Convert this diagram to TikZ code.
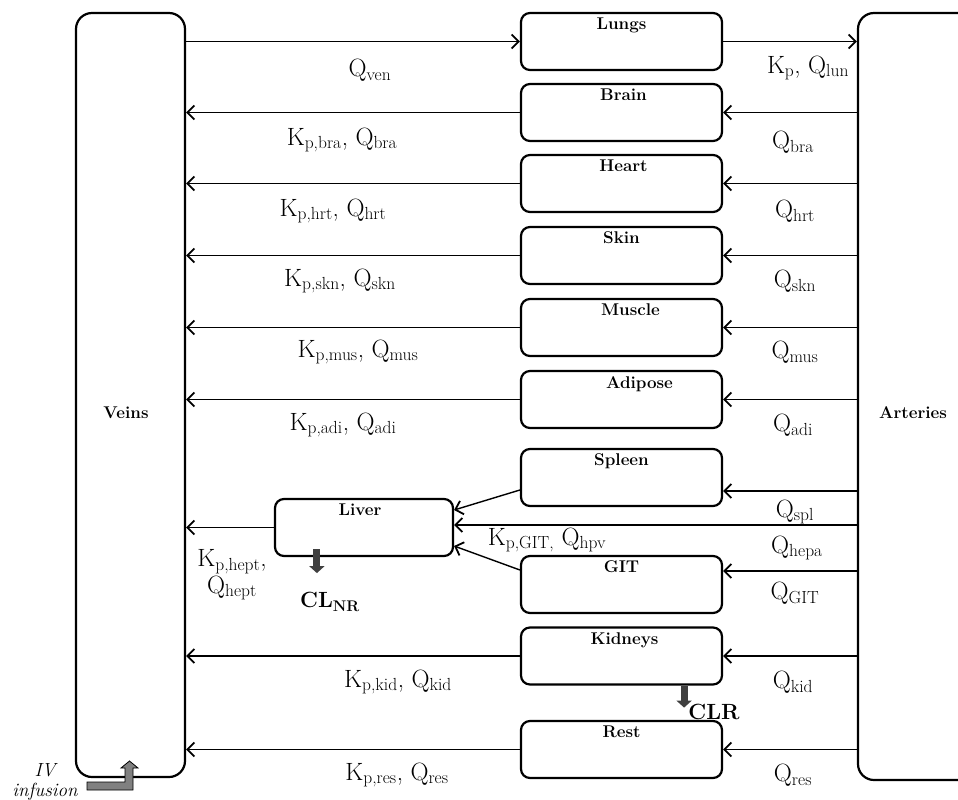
\documentclass[tikz,border=0pt]{standalone}
\usepackage{fontspec}
\usetikzlibrary{arrows.meta,calc}
\tikzset{
 box/.style={draw, line width=2.2pt, rounded corners=9pt, minimum width=201pt, minimum height=57pt, inner sep=0pt},
 organx/.style 2 args={box, label={[anchor=north, inner sep=0pt, yshift=-6pt, xshift=#2, font=\bfseries\fontsize{17}{19}\selectfont]north:#1}},
 organ/.style={organx={#1}{0pt}},
 bigbox/.style={draw, line width=2.2pt, rounded corners=16pt, inner sep=0pt},
 flow/.style={line width=1.4pt, -{Straight Barb[length=7pt,width=14pt,line width=1.8pt]}},
 lbl/.style={font=\fontsize{25}{29}\selectfont, inner sep=0pt},
 blbl/.style={font=\bfseries\fontsize{17}{19}\selectfont, inner sep=0pt},
 clbl/.style={font=\bfseries\fontsize{22}{25}\selectfont, inner sep=0pt},
 ivlbl/.style={font=\itshape\fontsize{19}{21}\selectfont, inner sep=0pt},
 clr/.style={line width=7pt, draw=black!75, -{Triangle[length=7pt,width=15pt]}},
}
\begin{document}
\begin{tikzpicture}[x=1pt,y=-1pt]
\useasboundingbox (0,0) rectangle (958,800);
\clip (0,0) rectangle (958,800);
% compartments
\node[bigbox, minimum width=109pt, minimum height=764pt] (veins) at (130.5,395) {};
\node[blbl] (veinslbl) at (126,413) {Veins};
\node[bigbox, minimum width=152pt, minimum height=767pt] (arteries) at (934,396.5) {};
\node[blbl] (artlbl) at (913,413) {Arteries};
\node[organ=Lungs] (lungs) at (621.5,41.5) {};
\node[organx={Brain}{2pt}] (brain) at (621.5,112.5) {};
\node[organx={Heart}{2pt}] (heart) at (621.5,183.5) {};
\node[organ=Skin] (skin) at (621.5,255.5) {};
\node[organx={Muscle}{9pt}] (muscle) at (621.5,327.5) {};
\node[organx={Adipose}{18pt}] (adipose) at (621.5,399.5) {};
\node[organ=Spleen] (spleen) at (621.5,477.5) {};
\node[organ=GIT] (git) at (621.5,584.5) {};
\node[organx={Kidneys}{3pt}] (kidneys) at (621.5,656) {};
\node[organ=Rest] (rest) at (621.5,749.5) {};
\node[organx={Liver}{-4pt}, minimum width=178pt] (liver) at (364,527.5) {};
% flows
\draw[flow] (veins.east |- lungs.west) -- (lungs.west);
\draw[flow] (lungs.east) -- (arteries.west |- lungs.east);
\foreach \o in {brain,heart,skin,muscle,adipose,kidneys,rest}{
  \draw[flow] (arteries.west |- \o.east) -- (\o.east);
  \draw[flow] (\o.west) -- (veins.east |- \o.west);
}
\coordinate (splin) at ($(spleen.east)+(0,13.5)$);
\draw[flow] (arteries.west |- splin) -- (splin);
\draw[flow] ($(spleen.west)+(0,12.5)$) -- ($(liver.east)+(0,-17.5)$);
\coordinate (livin) at ($(liver.east)+(0,-2.5)$);
\draw[flow] (arteries.west |- livin) -- (livin);
\coordinate (gitin) at ($(git.east)+(0,-13.5)$);
\draw[flow] (arteries.west |- gitin) -- (gitin);
\draw[flow] ($(git.west)+(0,-14.5)$) -- ($(liver.east)+(0,18.5)$);
\draw[flow] (liver.west) -- (veins.east |- liver.west);
% clearances
\draw[clr] ($(liver.south west)+(43,-8)$) -- ++(0,24);
\draw[clr] ($(kidneys.south east)+(-39,0)$) -- ++(0,22);
\node[clbl] (clnr) at (330,602) {CL\textsubscript{NR}};
\node[clbl] (clrl) at (714,712) {CLR};
% IV infusion
\filldraw[fill=black!50, draw=black, line width=0.8pt] (87,782) -- (125,782) -- (125,768) -- (121,768) -- (129.5,761) -- (138,768) -- (133,768) -- (133,790) -- (87,790) -- cycle;
\node[ivlbl] (iv) at (45,770) {IV};
\node[ivlbl] (inf) at (45,792) {infusion};
% labels
\node[lbl] (lven) at (370,70) {Q\textsubscript{ven}};
\node[lbl] (llun) at (808,68) {K\textsubscript{p}, Q\textsubscript{lun}};
\node[lbl] (lbra) at (342,140) {K\textsubscript{p,bra}, Q\textsubscript{bra}};
\node[lbl] (rbra) at (793,142) {Q\textsubscript{bra}};
\node[lbl] (lhrt) at (333,211) {K\textsubscript{p,hrt}, Q\textsubscript{hrt}};
\node[lbl] (rhrt) at (795,211) {Q\textsubscript{hrt}};
\node[lbl] (lskn) at (340,281) {K\textsubscript{p,skn}, Q\textsubscript{skn}};
\node[lbl] (rskn) at (795,281) {Q\textsubscript{skn}};
\node[lbl] (lmus) at (358,352) {K\textsubscript{p,mus}, Q\textsubscript{mus}};
\node[lbl] (rmus) at (795,352) {Q\textsubscript{mus}};
\node[lbl] (ladi) at (343,425) {K\textsubscript{p,adi}, Q\textsubscript{adi}};
\node[lbl] (radi) at (793,425) {Q\textsubscript{adi}};
\node[lbl] (rspl) at (795,512) {Q\textsubscript{spl}};
\node[lbl] (rhepa) at (797,548) {Q\textsubscript{hepa}};
\node[lbl] (rgit) at (795,593) {Q\textsubscript{GIT}};
\node[lbl] (lgit) at (547,540) {K\textsubscript{p,GIT,} Q\textsubscript{hpv}};
\node[lbl] (lhept1) at (232,562) {K\textsubscript{p,hept},};
\node[lbl] (lhept2) at (232,588) {Q\textsubscript{hept}};
\node[lbl] (lkid) at (398,682) {K\textsubscript{p,kid}, Q\textsubscript{kid}};
\node[lbl] (rkid) at (793,682) {Q\textsubscript{kid}};
\node[lbl] (lres) at (397,775) {K\textsubscript{p,res}, Q\textsubscript{res}};
\node[lbl] (rres) at (793,775) {Q\textsubscript{res}};
\end{tikzpicture}
\end{document}
